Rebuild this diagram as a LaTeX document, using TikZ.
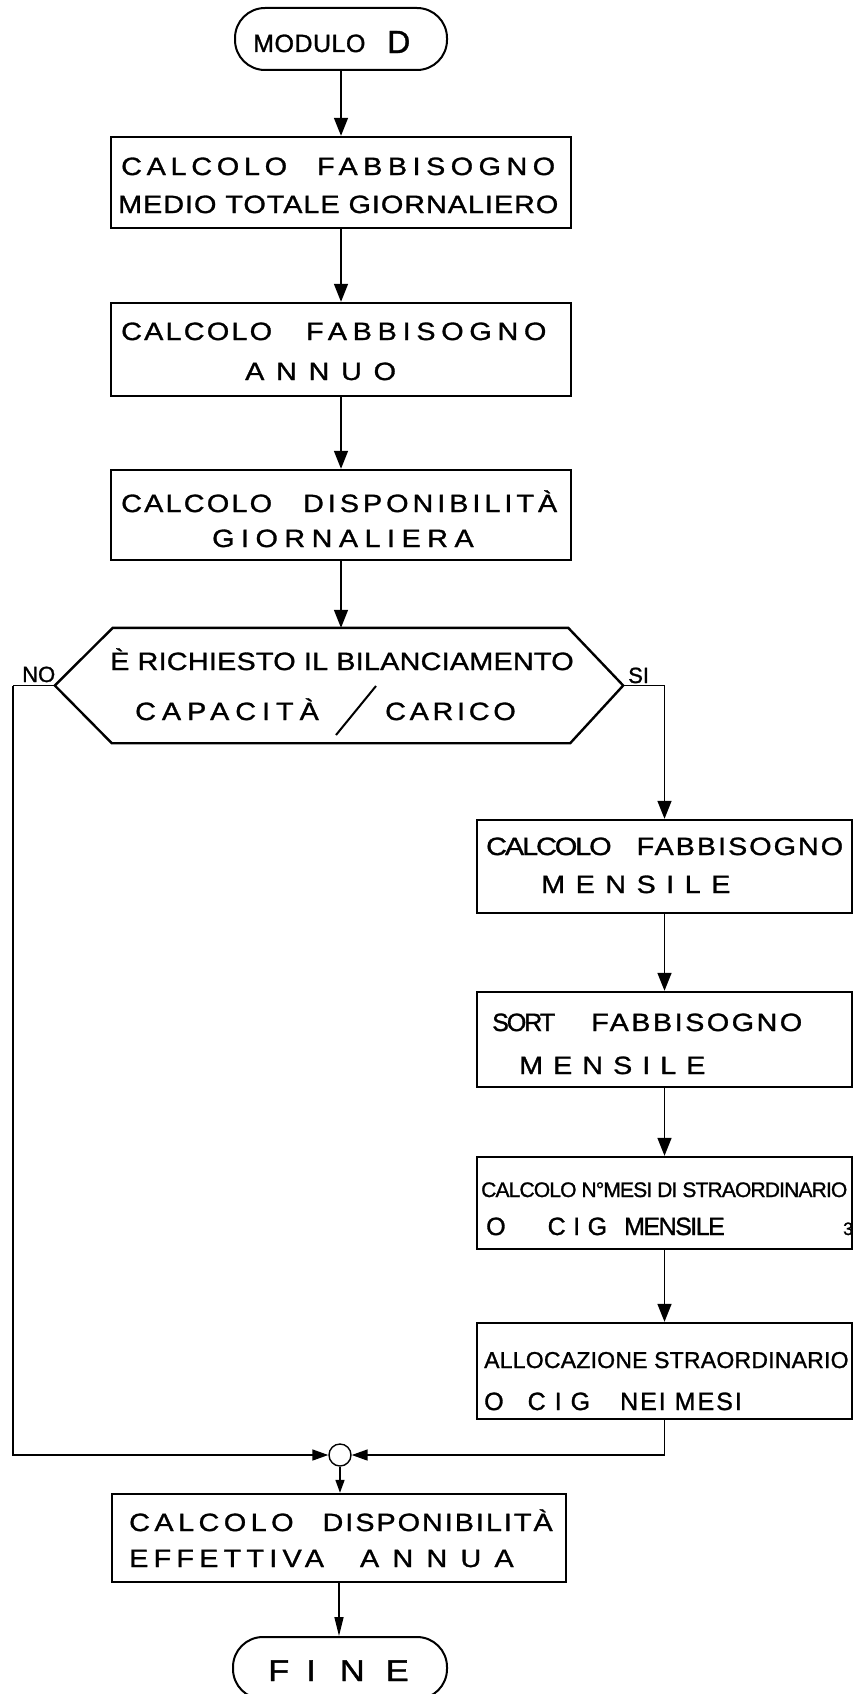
\documentclass[tikz,border=0pt]{standalone}
\usepackage{fontspec}
\setmainfont{Liberation Sans}[FakeBold=1.2]
\newfontfamily\widefont{Liberation Sans}[FakeStretch=1.15,FakeBold=1.2]
\usetikzlibrary{arrows.meta}
\newcommand\LS[2]{{\addfontfeature{LetterSpace=#1}#2}}
\begin{document}
\begin{tikzpicture}[x=1pt,y=-1pt,
  box/.style={draw, line width=2.4pt, inner sep=0pt},
  term/.style={draw, line width=2pt, rounded corners=30pt, inner sep=0pt},
  lbl/.style={anchor=base west, inner sep=0pt, font=\widefont\fontsize{25}{30}\selectfont},
  nlbl/.style={anchor=base west, inner sep=0pt, font=\rmfamily\fontsize{25}{30}\selectfont},
  conn/.style={line width=1.6pt},
  arr/.style={conn, -{Triangle[length=18pt,width=14pt]}},
  jarr/.style={conn, -{Triangle[length=16pt,width=11pt]}},
  sarr/.style={conn, -{Triangle[length=13pt,width=9pt]}},
  farr/.style={conn, -{Triangle[length=19pt,width=9pt]}}]
\useasboundingbox (0,0) rectangle (857,1694);
\clip (0,0) rectangle (857,1694);
\fill[white] (0,0) rectangle (857,1694);

% shapes
\node[term, minimum width=212pt, minimum height=62pt] (start) at (341,39) {};
\node[box, minimum width=460pt, minimum height=91pt] (b1) at (341,182.5) {};
\node[box, minimum width=460pt, minimum height=93pt] (b2) at (341,349.5) {};
\node[box, minimum width=460pt, minimum height=90pt] (b3) at (341,515) {};
\node[inner sep=0pt, minimum width=568pt, minimum height=115pt] (dec) at (339,685.5) {};
\draw[line width=2.4pt] ([xshift=58pt]dec.north west) -- ([xshift=-55pt]dec.north east) -- (dec.east)
  -- ([xshift=-53pt]dec.south east) -- ([xshift=57pt]dec.south west) -- (dec.west) -- cycle;
\node[box, minimum width=375pt, minimum height=93pt] (b4) at (664.5,866.5) {};
\node[box, minimum width=375pt, minimum height=95pt] (b5) at (664.5,1039.5) {};
\node[box, minimum width=375pt, minimum height=92pt] (b6) at (664.5,1203) {};
\node[box, minimum width=375pt, minimum height=96pt] (b7) at (664.5,1371) {};
\node[circle, draw, line width=1.4pt, minimum size=22pt, inner sep=0pt] (junc) at (340,1455) {};
\node[box, minimum width=454pt, minimum height=88pt] (b8) at (339,1538) {};
\node[term, minimum width=214pt, minimum height=62pt] (fine) at (340,1668) {};
\coordinate (noc) at (13,685.5);

% connectors
\draw[arr] (start.south) -- (b1.north);
\draw[arr] (b1.south) -- (b2.north);
\draw[arr] (b2.south) -- (b3.north);
\draw[arr] (b3.south) -- (b3.south |- dec.north);
\draw[arr] (dec.east) -| (b4.north);
\draw[arr] (b4.south) -- (b5.north);
\draw[arr] (b5.south) -- (b6.north);
\draw[arr] (b6.south) -- (b7.north);
\draw[conn] (dec.west) -- (noc);
\draw[jarr] (noc) |- (junc.west);
\draw[jarr] (b7.south) |- (junc.east);
\draw[sarr] (junc.south) -- (junc.south |- b8.north);
\draw[farr] (b8.south) -- (b8.south |- fine.north);

% texts
\node[nlbl] (ts1) at (253,52) {\LS{2}{MODULO}};
\node[nlbl, font=\rmfamily\fontsize{32}{36}\selectfont] (ts2) at (387,53) {D};

\node[lbl] (t1a) at (121,175) {\LS{19}{CALCOLO}\hspace{30pt}\LS{22}{FABBISOGNO}};
\node[lbl] (t1b) at (118,213) {\LS{4}{MEDIO TOTALE GIORNALIERO}};

\node[lbl] (t2a) at (121,340) {\LS{9}{CALCOLO}\hspace{34pt}\LS{23}{FABBISOGNO}};
\node[lbl] (t2b) at (245,380) {\LS{47}{ANNUO}};

\node[lbl] (t3a) at (121,512) {\LS{9}{CALCOLO}\hspace{31pt}\LS{16}{DISPONIBILITÀ}};
\node[lbl] (t3b) at (212,547) {\LS{26}{GIORNALIERA}};

\node[lbl] (tda) at (110,670) {\LS{1}{È RICHIESTO IL BILANCIAMENTO}};
\node[lbl] (tdb) at (135,720) {\LS{24}{CAPACITÀ}};
\draw[line width=2pt] (336,735) -- (376,686);
\node[lbl] (tdc) at (385,720) {\LS{15}{CARICO}};
\node[nlbl, font=\rmfamily\fontsize{22}{26}\selectfont] (tno) at (22,682) {NO};
\node[nlbl, font=\rmfamily\fontsize{22}{26}\selectfont] (tsi) at (628,683) {SI};

\node[lbl] (t4a) at (486,855) {\LS{-8}{CALCOLO}\hspace{25pt}\LS{8}{FABBISOGNO}};
\node[lbl] (t4b) at (541,893) {\LS{42}{MENSILE}};

\node[lbl] (t5a) at (492,1031) {{\rmfamily\LS{-8}{SORT}}\hspace{36pt}\LS{10}{FABBISOGNO}};
\node[lbl] (t5b) at (519,1074) {\LS{40}{MENSILE}};

\node[nlbl, font=\rmfamily\fontsize{21}{25}\selectfont] (t6a) at (481,1197) {\LS{-4}{CALCOLO N°MESI DI STRAORDINARIO}};
\node[nlbl] (t6b) at (486,1235) {O\hspace{42pt}\LS{30}{CIG}\hspace{17pt}\LS{-6}{MENSILE}};
\node[nlbl, font=\rmfamily\fontsize{18}{22}\selectfont] (t6c) at (843,1235) {3};

\node[nlbl, font=\rmfamily\fontsize{23}{27}\selectfont] (t7a) at (484,1368) {\LS{1}{ALLOCAZIONE STRAORDINARIO}};
\node[nlbl] (t7b) at (484,1410) {O\hspace{24pt}\LS{36}{CIG}\hspace{30pt}\LS{8}{NEI MESI}};

\node[lbl] (t8a) at (129,1531) {\LS{18}{CALCOLO}\hspace{29pt}\LS{8}{DISPONIBILITÀ}};
\node[lbl] (t8b) at (129,1567) {\LS{21}{EFFETTIVA}\hspace{36pt}\LS{53}{ANNUA}};

\node[lbl, font=\widefont\fontsize{30}{34}\selectfont] (tf) at (268,1681) {F\hspace{17pt}I\hspace{24pt}N\hspace{21pt}E};
\end{tikzpicture}
\end{document}
